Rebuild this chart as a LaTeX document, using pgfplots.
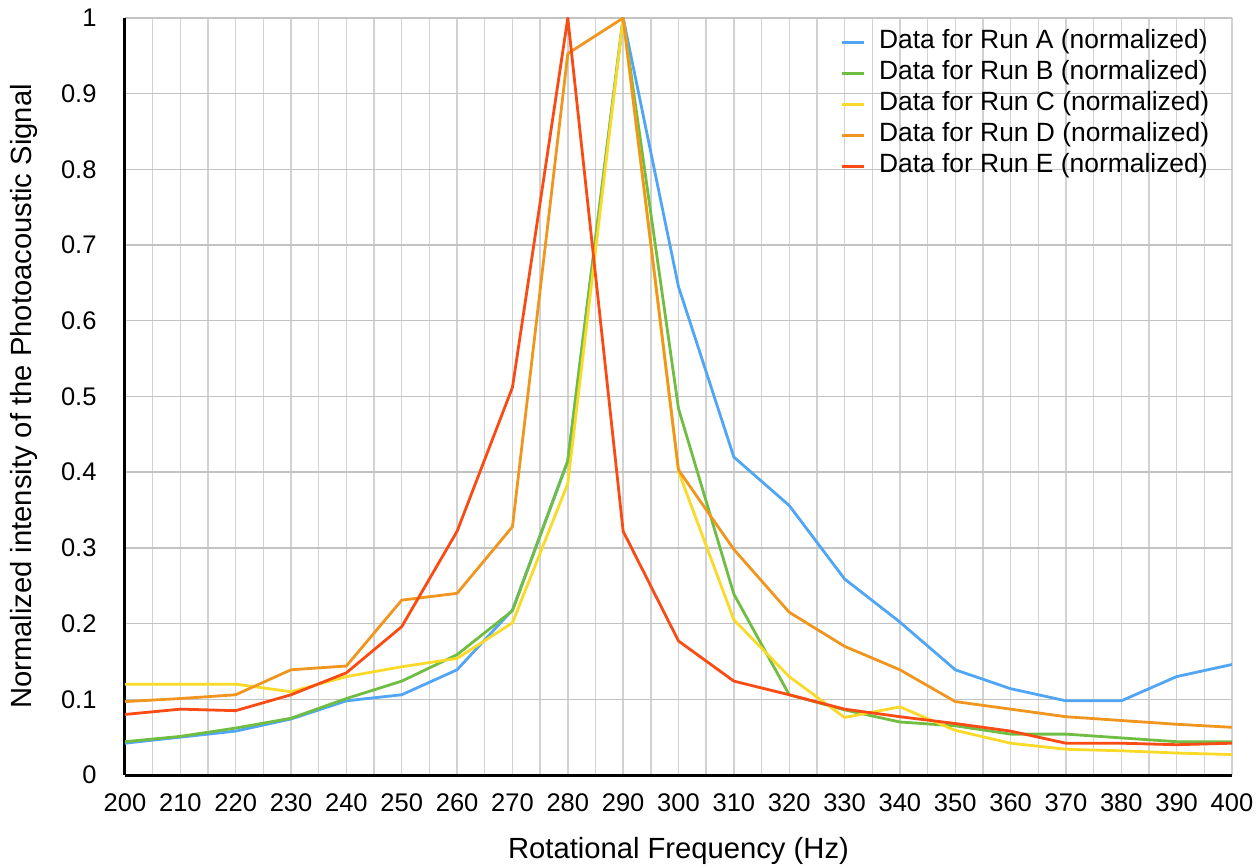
\documentclass[border=0pt]{standalone}
\usepackage{fontspec}
\setmainfont{Liberation Sans}
\usepackage{pgfplots}
\pgfplotsset{compat=1.18}

\definecolor{runA}{RGB}{80,165,245}
\definecolor{runB}{RGB}{112,190,65}
\definecolor{runC}{RGB}{250,218,40}
\definecolor{runD}{RGB}{240,150,30}
\definecolor{runE}{RGB}{250,75,20}
\definecolor{gridv}{RGB}{210,210,210}
\definecolor{gridh}{RGB}{195,195,195}

\begin{document}
\begin{tikzpicture}
\begin{axis}[
  at={(0,0)}, anchor=south west,
  scale only axis,
  width=1107pt, height=757pt,
  xmin=200, xmax=400, ymin=0, ymax=1,
  xtick={200,210,...,400},
  minor xtick={205,215,...,395},
  ytick={0,0.1,0.2,0.3,0.4,0.5,0.6,0.7,0.8,0.9,1},
  yticklabels={0,0.1,0.2,0.3,0.4,0.5,0.6,0.7,0.8,0.9,1},
  xticklabel={\pgfmathprintnumber[fixed,precision=0]{\tick}},
  /pgf/number format/assume math mode=true,
  grid=both,
  major grid style={draw=gridh, line width=1.4pt},
  minor grid style={draw=gridv, line width=1.4pt},
  x grid style={draw=gridv},
  axis x line*=bottom, axis y line*=left,
  axis line style={black, line width=3pt},
  major tick length=0pt, minor tick length=0pt,
  tick label style={font=\fontsize{25.5}{28}\selectfont},
  xticklabel style={yshift=-15pt},
  yticklabel style={xshift=-25pt},
  xlabel={Rotational Frequency (Hz)},
  ylabel={Normalized intensity of the Photoacoustic Signal},
  label style={font=\fontsize{29.2}{32}\selectfont},
  xlabel style={at={(axis description cs:0.5,0)}, anchor=base, yshift=-83pt},
  ylabel style={at={(axis description cs:-0.0912,0.5)}, anchor=center},
  every axis plot/.append style={line width=2.8pt, line join=round},
  legend cell align=left,
  legend image code/.code={\draw[#1] (0pt,0pt) -- (22pt,0pt); \path (33pt,0pt);},
  legend style={
    at={(axis description cs:0.6459,0.9888)}, anchor=north west,
    draw=none, fill=none, inner sep=0pt,
    font=\fontsize{26.4}{28}\selectfont,
    row sep=0pt,
    nodes={inner sep=3pt, text height=19pt, text depth=6pt},
  },
]
\addplot[runA] coordinates {
  (200,0.042) (210,0.050) (220,0.058) (230,0.074) (240,0.098) (250,0.106)
  (260,0.139) (270,0.218) (280,0.415) (290,1.000) (300,0.645) (310,0.420)
  (320,0.356) (330,0.259) (340,0.202) (350,0.139) (360,0.114) (370,0.098)
  (380,0.098) (390,0.130) (400,0.146)
};
\addlegendentry{Data for Run A (normalized)}
\addplot[runB] coordinates {
  (200,0.044) (210,0.051) (220,0.062) (230,0.075) (240,0.101) (250,0.124)
  (260,0.159) (270,0.217) (280,0.415) (290,1.000) (300,0.484) (310,0.239)
  (320,0.106) (330,0.086) (340,0.070) (350,0.065) (360,0.054) (370,0.054)
  (380,0.049) (390,0.044) (400,0.044)
};
\addlegendentry{Data for Run B (normalized)}
\addplot[runC] coordinates {
  (200,0.120) (210,0.120) (220,0.120) (230,0.110) (240,0.130) (250,0.143)
  (260,0.154) (270,0.201) (280,0.385) (290,1.000) (300,0.401) (310,0.205)
  (320,0.130) (330,0.076) (340,0.090) (350,0.059) (360,0.042) (370,0.034)
  (380,0.032) (390,0.029) (400,0.027)
};
\addlegendentry{Data for Run C (normalized)}
\addplot[runD] coordinates {
  (200,0.097) (210,0.101) (220,0.106) (230,0.139) (240,0.144) (250,0.231)
  (260,0.240) (270,0.328) (280,0.953) (290,1.000) (300,0.403) (310,0.298)
  (320,0.215) (330,0.170) (340,0.139) (350,0.097) (360,0.087) (370,0.077)
  (380,0.072) (390,0.067) (400,0.063)
};
\addlegendentry{Data for Run D (normalized)}
\addplot[runE] coordinates {
  (200,0.080) (210,0.087) (220,0.085) (230,0.106) (240,0.135) (250,0.196)
  (260,0.322) (270,0.512) (280,1.000) (290,0.322) (300,0.177) (310,0.124)
  (320,0.106) (330,0.087) (340,0.077) (350,0.068) (360,0.058) (370,0.042)
  (380,0.042) (390,0.040) (400,0.042)
};
\addlegendentry{Data for Run E (normalized)}
\end{axis}
% page frame: 1257 x 867 units with the plot area at (125,18)-(1232,775)
\pgfresetboundingbox
\path (-125pt,-92pt) rectangle (1132pt,775pt);
\end{tikzpicture}
\end{document}
